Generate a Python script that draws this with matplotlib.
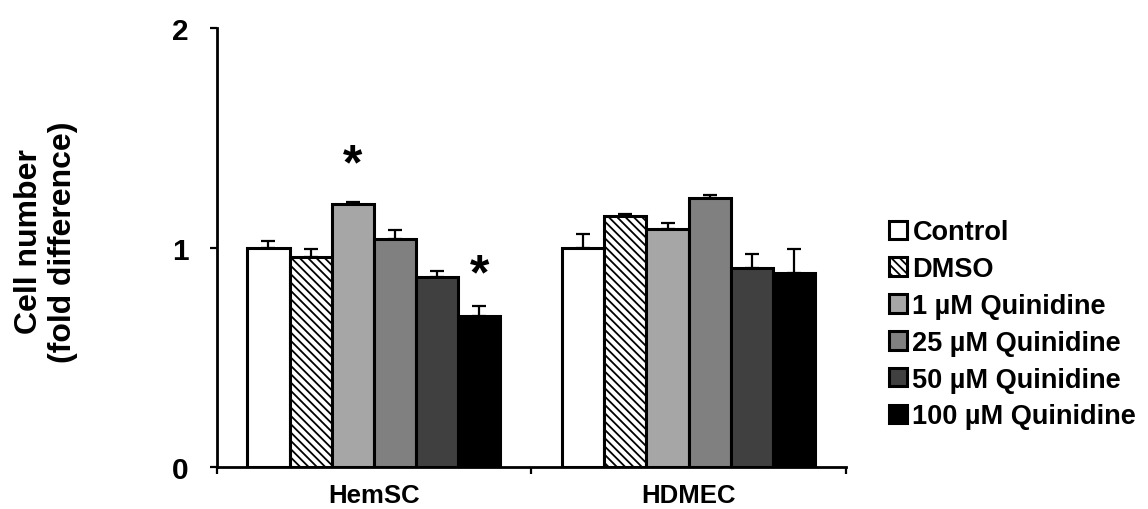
import matplotlib
matplotlib.use("Agg")
import matplotlib.pyplot as plt
import numpy as np

plt.rcParams['font.family'] = ['Liberation Sans', 'DejaVu Sans']
plt.rcParams['font.weight'] = 'bold'
plt.rcParams['hatch.linewidth'] = 1.3

categories = ["HemSC", "HDMEC"]
series = ["Control", "DMSO", "1 \u00b5M Quinidine", "25 \u00b5M Quinidine",
          "50 \u00b5M Quinidine", "100 \u00b5M Quinidine"]
control = [1.00, 1.00]
dmso = [0.96, 1.145]
q1 = [1.20, 1.085]
q25 = [1.04, 1.225]
q50 = [0.865, 0.91]
q100 = [0.69, 0.885]
err_control = [0.03, 0.065]
err_dmso = [0.035, 0.01]
err_q1 = [0.01, 0.03]
err_q25 = [0.04, 0.015]
err_q50 = [0.03, 0.06]
err_q100 = [0.045, 0.11]
values = [control, dmso, q1, q25, q50, q100]
errors = [err_control, err_dmso, err_q1, err_q25, err_q50, err_q100]
# significance markers: (category index, series index, baseline y)
stars = [(0, 2, 1.315), (0, 5, 0.815)]

colors = ["white", "white", "#a6a6a6", "#808080", "#404040", "black"]
hatches = [None, "\\\\\\\\", None, None, None, None]

fig = plt.figure(figsize=(11.48, 5.10), dpi=100)
ax = fig.add_axes([216.5 / 1148, 1 - 468.3 / 510, (846 - 216.5) / 1148, (468.3 - 29.3) / 510])

x = np.arange(len(categories))
w = 0.134
for i, (vals, errs) in enumerate(zip(values, errors)):
    pos = x + (i - 2.5) * w
    ax.bar(pos, vals, width=w, color=colors[i], edgecolor="black", linewidth=2.2,
           hatch=hatches[i], label=series[i], zorder=2)
    ax.errorbar(pos, vals, yerr=[np.zeros(len(errs)), errs], fmt="none",
                ecolor="black", elinewidth=1.6, capsize=5, capthick=1.6, zorder=3)

for ci, si, yv in stars:
    ax.text(x[ci] + (si - 2.5) * w, yv, "*", ha="center", va="baseline",
            fontsize=36, fontweight="bold")

ax.set_xlim(-0.5, 1.5)
ax.set_ylim(0, 2)
ax.set_yticks([0, 1, 2])
ax.set_yticklabels(["0", "1", "2"], fontsize=21.5, fontweight="bold")
ax.set_xticks(x)
ax.set_xticklabels(categories, fontsize=18.5, fontweight="bold")
ax.set_xticks([-0.5, 0.5, 1.5], minor=True)
ax.tick_params(axis="x", which="major", length=0, pad=11)
ax.tick_params(axis="x", which="minor", length=5, width=1.6, direction="out")
ax.tick_params(axis="y", length=5, width=1.6, direction="out", pad=15)
for s in ["top", "right"]:
    ax.spines[s].set_visible(False)
for s in ["left", "bottom"]:
    ax.spines[s].set_linewidth(2)

fig.text(46 / 1148, 1 - 242 / 510, "Cell number\n(fold difference)", rotation=90,
         ha="center", va="center", multialignment="center", fontsize=23,
         fontweight="bold", linespacing=1.15)

leg = ax.legend(loc="center left", bbox_to_anchor=(889 / 1148, 1 - 325.4 / 510),
                bbox_transform=fig.transFigure, frameon=False, fontsize=19.5,
                handlelength=0.667, handleheight=0.667, handletextpad=0.2,
                labelspacing=0.4, borderpad=0, borderaxespad=0)
for t in leg.get_texts():
    t.set_fontweight("bold")

fig.savefig("out.png", dpi=100)
